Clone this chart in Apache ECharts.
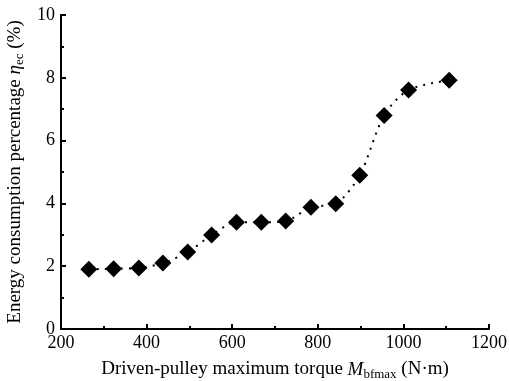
<!DOCTYPE html>
<html><head><meta charset="utf-8">
<script src="https://cdn.jsdelivr.net/npm/echarts@6/dist/echarts.min.js"></script>
<style>html,body{margin:0;padding:0;background:#fff}#c{width:509px;height:381px}</style>
</head><body><div id="c"></div>
<script>
var torque = [265, 323, 382, 438, 496, 552, 610, 668, 725, 784, 842, 898, 955, 1012, 1107];
var energyPct = [1.90, 1.92, 1.94, 2.10, 2.45, 2.99, 3.40, 3.40, 3.44, 3.88, 3.99, 4.90, 6.80, 7.61, 7.92];
var xTicks = [200, 400, 600, 800, 1000, 1200];
var yTicks = [0, 2, 4, 6, 8, 10];

var font = 'Liberation Serif';
var chart = echarts.init(document.getElementById('c'));
var data = torque.map(function (t, i) { return [t, energyPct[i]]; });
var rich = {
  n: {fontFamily: font, fontSize: 19, color: '#000'},
  i: {fontFamily: font, fontSize: 19, fontStyle: 'italic', color: '#000'},
  s: {fontFamily: font, fontSize: 13, color: '#000', padding: [10, 0, 0, 0]}
};
chart.setOption({
  animation: false,
  grid: {left: 61, right: 20, top: 15, bottom: 52, outerBoundsMode: 'none', containLabel: false},
  xAxis: {
    type: 'value', min: xTicks[0], max: xTicks[xTicks.length - 1], interval: 200,
    axisLine: {lineStyle: {color: '#000', width: 2}},
    axisTick: {inside: true, length: 5, lineStyle: {color: '#000', width: 2}},
    minorTick: {show: true, splitNumber: 2, length: 3, lineStyle: {color: '#000', width: 2}},
    splitLine: {show: false},
    axisLabel: {color: '#000', fontFamily: font, fontSize: 18, margin: 5,
      formatter: function (v) { return String(v); }},
    name: '{n|Driven-pulley maximum torque }{i|M}{s|bfmax}{n| (N·m)}',
    nameLocation: 'middle', nameGap: 29,
    nameTextStyle: {rich: rich}
  },
  yAxis: {
    type: 'value', min: yTicks[0], max: yTicks[yTicks.length - 1], interval: 2,
    axisLine: {show: true, lineStyle: {color: '#000', width: 2}},
    axisTick: {show: true, inside: true, length: 5, lineStyle: {color: '#000', width: 2}},
    minorTick: {show: true, splitNumber: 2, length: 3, lineStyle: {color: '#000', width: 2}},
    splitLine: {show: false},
    axisLabel: {color: '#000', fontFamily: font, fontSize: 18, margin: 6},
    name: '{n|Energy consumption percentage }{i|η}{s|ec}{n| (%)}',
    nameLocation: 'middle', nameGap: 31, nameRotate: 90,
    nameTextStyle: {rich: rich}
  },
  series: [{
    type: 'line', data: data, smooth: 0.3,
    symbol: 'diamond', symbolSize: 17,
    itemStyle: {color: '#000'},
    lineStyle: {color: '#000', width: 2, type: [2, 6]}
  }]
});
</script></body></html>
